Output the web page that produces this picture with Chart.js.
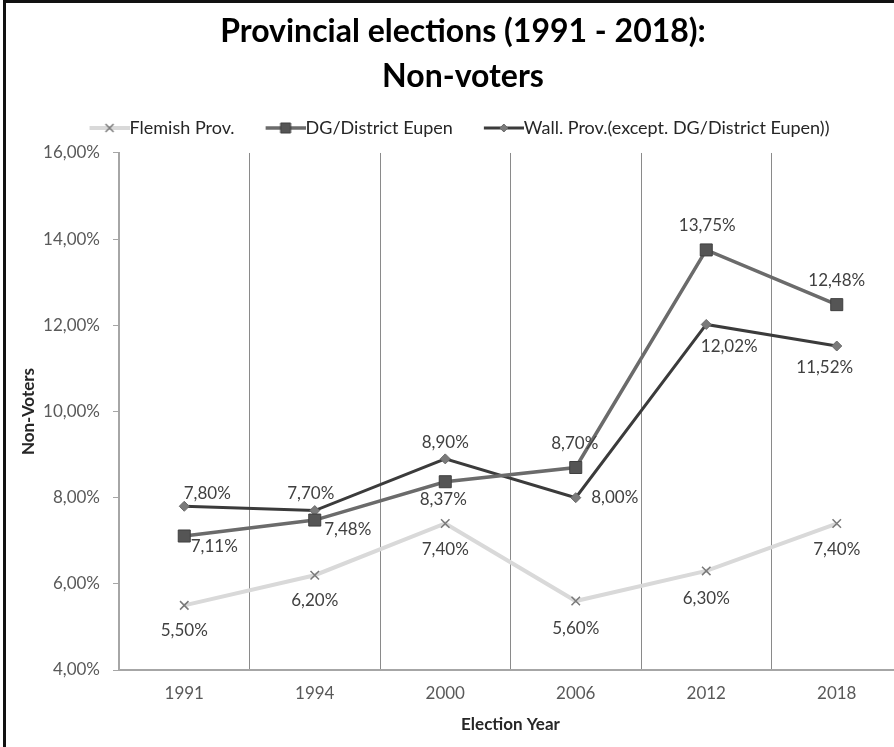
<!DOCTYPE html>
<html>
<head>
<meta charset="utf-8">
<title>Provincial elections (1991 - 2018): Non-voters</title>
<script src="https://cdn.jsdelivr.net/npm/chart.js@4.4.1/dist/chart.umd.min.js"></script>
<style>
  html, body { margin: 0; padding: 0; background: #fff; overflow: hidden; }
  #wrap { position: relative; width: 894px; height: 747px; overflow: hidden; }
  #wrap canvas { position: absolute; left: 0; top: 0; }
  #frame {
    position: absolute; left: 3px; top: 0;
    width: 1000px; height: 1000px;
    border: 3px solid #111; box-sizing: border-box;
    pointer-events: none;
  }
</style>
</head>
<body>
<div id="wrap">
  <canvas id="nonvoters" width="926" height="760" style="width:926px;height:760px"></canvas>
  <div id="frame"></div>
</div>
<script>
const years = ['1991', '1994', '2000', '2006', '2012', '2018'];

// share of non-voters, in percent
const flemish = [5.50, 6.20, 7.40, 5.60, 6.30, 7.40];
const eupen = [7.11, 7.48, 8.37, 8.70, 13.75, 12.48];
const wallonia = [7.80, 7.70, 8.90, 8.00, 12.02, 11.52];

const yTicks = [4, 6, 8, 10, 12, 14, 16];

// value label placement around each point, [dx, dy] in px
const flemishLabelAt = [[0, 25], [0, 25], [0, 26], [0, 27], [0, 28], [0, 26]];
const eupenLabelAt = [[30, 11], [33, 9], [-2, 18], [-1, -24], [1, -24], [0, -24]];
const walloniaLabelAt = [[23, -13], [-4, -17], [0, -16], [39, 0], [23, 22], [-12, 22]];

const FONT = 'Lato, "Open Sans", sans-serif';
const pct = (v) => v.toFixed(2).replace('.', ',') + '%';

// little line + marker picture used as the legend symbol
function legendSwatch(ds) {
	const c = document.createElement('canvas');
	c.width = 70;
	c.height = 16;
	const g = c.getContext('2d');
	const cx = 50, cy = 8;
	g.strokeStyle = ds.borderColor;
	g.lineWidth = ds.borderWidth;
	g.beginPath();
	g.moveTo(30, cy);
	g.lineTo(70, cy);
	g.stroke();

	g.fillStyle = ds.pointBackgroundColor;
	g.strokeStyle = ds.pointBorderColor;
	g.lineWidth = ds.pointBorderWidth;
	g.beginPath();
	if (ds.pointStyle === 'rect') {
		g.rect(cx - 5, cy - 5, 10, 10);
		g.fill();
		g.stroke();
	} else if (ds.pointStyle === 'rectRot') {
		g.moveTo(cx, cy - 4);
		g.lineTo(cx + 4, cy);
		g.lineTo(cx, cy + 4);
		g.lineTo(cx - 4, cy);
		g.closePath();
		g.fill();
		g.stroke();
	} else {
		g.moveTo(cx - 4, cy - 4);
		g.lineTo(cx + 4, cy + 4);
		g.moveTo(cx + 4, cy - 4);
		g.lineTo(cx - 4, cy + 4);
		g.stroke();
	}
	return c;
}

// a bit more room under the legend, and nudge the row left
const legendSpacing = {
	id: 'legendSpacing',
	beforeLayout(chart) {
		const legend = chart.legend;
		if (!legend || legend._spaced) {
			return;
		}
		const fit = legend.fit;
		legend.fit = function () {
			fit.call(this);
			this.height += 6;
		};
		legend._spaced = true;
	},
	afterLayout(chart) {
		chart.legend.left -= 14;
		chart.legend.right -= 14;
	},
};

const valueLabels = {
	id: 'valueLabels',
	afterDatasetsDraw(chart) {
		const ctx = chart.ctx;
		ctx.save();
		ctx.font = '17px ' + FONT;
		ctx.fillStyle = '#404040';
		ctx.textAlign = 'center';
		ctx.textBaseline = 'middle';
		chart.data.datasets.forEach((ds, i) => {
			const meta = chart.getDatasetMeta(i);
			meta.data.forEach((pt, j) => {
				const [dx, dy] = ds.labelAt[j];
				ctx.fillText(pct(ds.data[j]), pt.x + dx, pt.y + dy);
			});
		});
		ctx.restore();
	},
};

const ctx = document.getElementById('nonvoters').getContext('2d');
new Chart(ctx, {
	type: 'line',
	data: {
		labels: years,
		datasets: [
			{
				label: 'Flemish Prov.',
				data: flemish,
				labelAt: flemishLabelAt,
				borderColor: '#d9d9d9',
				borderWidth: 4,
				pointStyle: 'crossRot',
				pointRadius: 6,
				pointBackgroundColor: '#7a7a7a',
				pointBorderColor: '#7a7a7a',
				pointBorderWidth: 1.5,
				tension: 0,
			},
			{
				label: 'DG/District Eupen',
				data: eupen,
				labelAt: eupenLabelAt,
				borderColor: '#6b6b6b',
				borderWidth: 3.5,
				pointStyle: 'rect',
				pointRadius: 8.5,
				pointBackgroundColor: '#555555',
				pointBorderColor: '#3f3f3f',
				pointBorderWidth: 1,
				tension: 0,
			},
			{
				label: 'Wall. Prov.(except. DG/District Eupen))',
				data: wallonia,
				labelAt: walloniaLabelAt,
				borderColor: '#3b3b3b',
				borderWidth: 3,
				pointStyle: 'rectRot',
				pointRadius: 5,
				pointBackgroundColor: '#7a7a7a',
				pointBorderColor: '#6a6a6a',
				pointBorderWidth: 1,
				tension: 0,
			},
		],
	},
	options: {
		responsive: false,
		devicePixelRatio: 1,
		animation: false,
		layout: {
			padding: { left: 4, right: 4, top: 0, bottom: 0 },
		},
		plugins: {
			tooltip: { enabled: false },
			title: {
				display: true,
				text: ['Provincial elections (1991 - 2018):', 'Non-voters'],
				color: '#000',
				font: { family: FONT, size: 32, weight: 'bold', lineHeight: 1.406 },
				padding: { top: 9.5, bottom: 9.5 },
			},
			legend: {
				display: true,
				position: 'top',
				labels: {
					usePointStyle: true,
					pointStyleWidth: 52,
					padding: 10,
					color: '#262626',
					font: { family: FONT, size: 18 },
					generateLabels(chart) {
						return chart.data.datasets.map((ds, i) => ({
							text: ds.label,
							pointStyle: legendSwatch(ds),
							fillStyle: ds.borderColor,
							strokeStyle: ds.borderColor,
							lineWidth: 0,
							hidden: false,
							datasetIndex: i,
							fontColor: '#262626',
						}));
					},
				},
			},
		},
		scales: {
			x: {
				type: 'category',
				offset: true,
				afterFit(scale) {
					scale.height = 90;
				},
				grid: {
					offset: true,
					drawTicks: false,
					color: '#8a8a8a',
					lineWidth: 1,
				},
				border: { color: '#a6a6a6', width: 2 },
				ticks: {
					color: '#595959',
					padding: 13,
					font: { family: FONT, size: 17 },
				},
				title: {
					display: true,
					text: 'Election Year',
					color: '#262626',
					font: { family: FONT, size: 17, weight: 'bold' },
					padding: { top: 0, bottom: 25 },
				},
			},
			y: {
				min: yTicks[0],
				max: yTicks[yTicks.length - 1],
				afterFit(scale) {
					scale.width = 115;
				},
				afterBuildTicks(scale) {
					scale.ticks = yTicks.map((v) => ({ value: v }));
				},
				grid: {
					drawOnChartArea: false,
					drawTicks: true,
					tickLength: 6,
					color: '#a6a6a6',
				},
				border: { color: '#a6a6a6', width: 2 },
				ticks: {
					color: '#595959',
					padding: 13,
					font: { family: FONT, size: 17 },
					callback: (v) => pct(v),
				},
				title: {
					display: true,
					text: 'Non-Voters',
					color: '#262626',
					font: { family: FONT, size: 17, weight: 'bold' },
					padding: { top: 14, bottom: 0 },
				},
			},
			// empty right-hand axis that only keeps the margin beside the plot
			yRight: {
				axis: 'y',
				position: 'right',
				min: yTicks[0],
				max: yTicks[yTicks.length - 1],
				afterFit(scale) {
					scale.width = 20;
				},
				grid: { display: false },
				border: { display: false },
				ticks: { display: false },
			},
		},
	},
	plugins: [valueLabels, legendSpacing],
});
</script>
</body>
</html>
